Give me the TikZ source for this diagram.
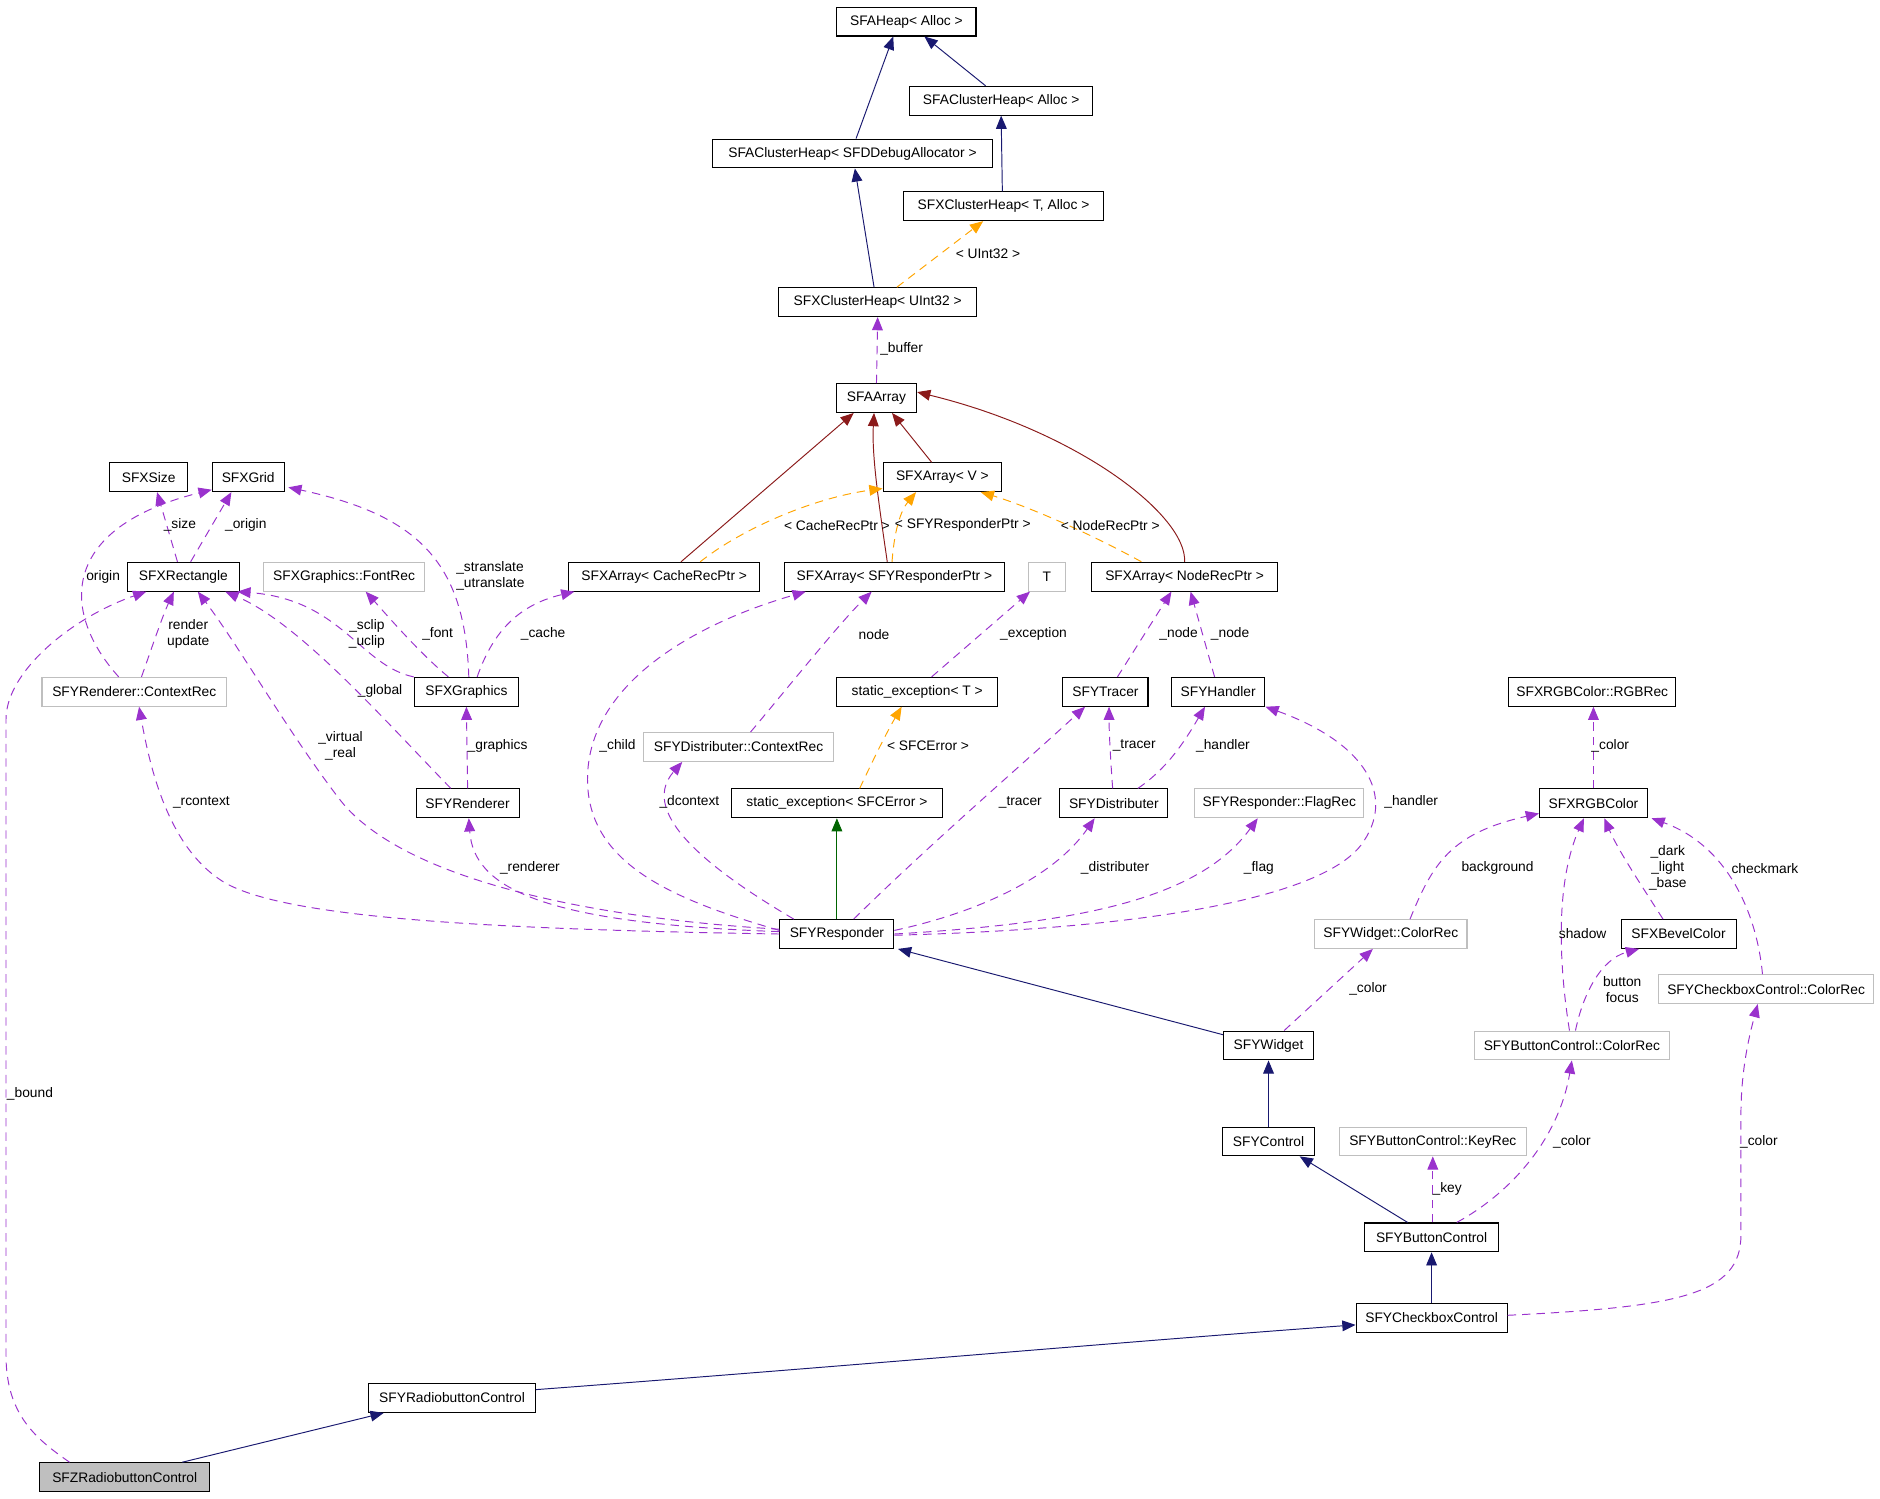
\documentclass[tikz,border=0pt]{standalone}
\usepackage{fontspec}
\setmainfont{Liberation Sans}
\usetikzlibrary{arrows.meta}
\definecolor{inhblue}{HTML}{191970}
\definecolor{protgreen}{HTML}{006400}
\definecolor{arrred}{HTML}{8B1A1A}
\definecolor{tmplorange}{HTML}{FFA500}
\definecolor{usepurple}{HTML}{9A32CD}
\definecolor{recgray}{HTML}{BFBFBF}
\tikzstyle{cls}=[draw=black, line width=0.9pt, minimum height=24pt, inner xsep=6pt, font=\fontsize{11.5}{13}\selectfont]
\tikzstyle{rec}=[cls, draw=recgray]
\tikzstyle{lbl}=[font=\fontsize{11.5}{13.5}\selectfont, inner sep=0pt, align=center]
\tikzstyle{every path}=[line width=0.8pt]
\tikzstyle{tip}=[-{Triangle[length=11pt,width=9pt]}]
\tikzstyle{inh}=[tip, draw=inhblue]
\tikzstyle{prot}=[tip, draw=protgreen]
\tikzstyle{base}=[tip, draw=arrred]
\tikzstyle{tmpl}=[tip, draw=tmplorange, dash pattern=on 7pt off 5pt]
\tikzstyle{use}=[tip, draw=usepurple, dash pattern=on 7pt off 5pt]

\begin{document}
\begin{tikzpicture}[x=1pt, y=-1pt]
  \fill[white] (0,0) rectangle (1568,1250);
  \useasboundingbox (0,0) rectangle (1568,1250);

  % Classes
  \node[cls, minimum width=116pt] (heap) at (756,18) {SFAHeap< Alloc >};
  \node[cls, minimum width=153pt] (chA) at (835,84) {SFAClusterHeap< Alloc >};
  \node[cls, minimum width=234pt] (chD) at (711,128) {SFAClusterHeap< SFDDebugAllocator >};
  \node[cls, minimum width=167pt] (xchT) at (837,172) {SFXClusterHeap< T, Alloc >};
  \node[cls, minimum width=165pt] (xchU) at (732,252) {SFXClusterHeap< UInt32 >};
  \node[cls, minimum width=67pt] (aarr) at (731,332) {SFAArray};
  \node[cls, minimum width=99pt] (xarrV) at (786,398) {SFXArray< V >};
  \node[cls, minimum width=65pt] (size) at (124,398) {SFXSize};
  \node[cls, minimum width=60pt] (grid) at (207,398) {SFXGrid};
  \node[cls, minimum width=93pt] (rect) at (153,481) {SFXRectangle};
  \node[rec, minimum width=134pt] (fontrec) at (287,481) {SFXGraphics::FontRec};
  \node[cls, minimum width=159pt] (arrCache) at (554,481) {SFXArray< CacheRecPtr >};
  \node[cls, minimum width=183pt] (arrResp) at (746,481) {SFXArray< SFYResponderPtr >};
  \node[rec, minimum width=31pt] (tT) at (873,481) {T};
  \node[cls, minimum width=155pt] (arrNode) at (988,481) {SFXArray< NodeRecPtr >};
  \node[rec, minimum width=154pt] (rctx) at (112,577) {SFYRenderer::ContextRec};
  \node[cls, minimum width=87pt] (gfx) at (389,577) {SFXGraphics};
  \node[cls, minimum width=134pt] (sexT) at (765,577) {static\_exception< T >};
  \node[cls, minimum width=71pt] (tracer) at (922,577) {SFYTracer};
  \node[cls, minimum width=78pt] (handler) at (1016,577) {SFYHandler};
  \node[cls, minimum width=139pt] (rgbrec) at (1328,577) {SFXRGBColor::RGBRec};
  \node[rec, minimum width=158pt] (dctx) at (616,623) {SFYDistributer::ContextRec};
  \node[cls, minimum width=86pt] (renderer) at (390,670) {SFYRenderer};
  \node[cls, minimum width=176pt] (sexE) at (698,670) {static\_exception< SFCError >};
  \node[cls, minimum width=90pt] (distr) at (929,670) {SFYDistributer};
  \node[rec, minimum width=141pt] (flagrec) at (1067,670) {SFYResponder::FlagRec};
  \node[cls, minimum width=90pt] (rgb) at (1329,670) {SFXRGBColor};
  \node[cls, minimum width=95pt] (resp) at (698,779) {SFYResponder};
  \node[rec, minimum width=127pt] (wcol) at (1160,779) {SFYWidget::ColorRec};
  \node[cls, minimum width=96pt] (bevel) at (1400,779) {SFXBevelColor};
  \node[rec, minimum width=179pt] (cbcol) at (1473,825) {SFYCheckboxControl::ColorRec};
  \node[cls, minimum width=75pt] (widget) at (1058,872) {SFYWidget};
  \node[rec, minimum width=163pt] (bccol) at (1311,872) {SFYButtonControl::ColorRec};
  \node[cls, minimum width=77pt] (control) at (1058,952) {SFYControl};
  \node[rec, minimum width=156pt] (keyrec) at (1195,952) {SFYButtonControl::KeyRec};
  \node[cls, minimum width=112pt] (button) at (1194,1032) {SFYButtonControl};
  \node[cls, minimum width=126pt] (checkbox) at (1194,1099) {SFYCheckboxControl};
  \node[cls, minimum width=139pt] (radio) at (377,1166) {SFYRadiobuttonControl};
  \node[cls, minimum width=142pt, fill=recgray] (sfz) at (104,1232) {SFZRadiobuttonControl};

  % Inheritance
  \draw[inh] ([xshift=3pt]chD.north) -- ([xshift=-11pt]heap.south);
  \draw[inh] ([xshift=-13pt]chA.north) -- ([xshift=15pt]heap.south);
  \draw[inh] ([xshift=-1pt]xchT.north) -- (chA.south);
  \draw[inh] ([xshift=-3pt]xchU.north) -- ([xshift=2pt]chD.south);
  \draw[inh] ([yshift=9pt]widget.west) -- ([xshift=3pt]resp.south east);
  \draw[inh] (control.north) -- (widget.south);
  \draw[inh] ([xshift=-20pt]button.north) -- ([xshift=26pt]control.south);
  \draw[inh] (checkbox.north) -- (button.south);
  \draw[inh] ([yshift=7pt]radio.east) .. controls (700,1140) and (950,1118) .. ([yshift=-6pt]checkbox.west);
  \draw[inh] ([xshift=48pt]sfz.north) -- ([xshift=-57pt]radio.south);
  \draw[prot] (resp.north) -- (sexE.south);

  % SFAArray bases
  \draw[base] ([xshift=14pt]arrCache.north) -- ([xshift=-19pt]aarr.south);
  \draw[base] ([xshift=-6pt]arrResp.north) .. controls (733,420) and (727,380) .. ([xshift=-2pt]aarr.south);
  \draw[base] ([xshift=-9pt]xarrV.north) -- ([xshift=13pt]aarr.south);
  \draw[base] (arrNode.north) .. controls (990,430) and (900,360) .. ([yshift=5pt]aarr.east);

  % Template instances
  \draw[tmpl] ([xshift=16pt]xchU.north) -- ([xshift=-17pt]xchT.south);
  \draw[tmpl] ([xshift=30pt]arrCache.north) .. controls (620,440) and (680,415) .. ([yshift=3pt]xarrV.south west);
  \draw[tmpl] ([xshift=-2pt]arrResp.north) .. controls (746,440) and (752,425) .. ([xshift=-22pt]xarrV.south);
  \draw[tmpl] ([xshift=-36pt]arrNode.north) .. controls (900,440) and (850,420) .. ([xshift=32pt]xarrV.south);
  \draw[tmpl] ([xshift=19pt]sexE.north) .. controls (730,630) and (740,610) .. ([xshift=-13pt]sexT.south);

  % Members
  \draw[use] (aarr.north) -- (xchU.south);
  \draw[use] ([xshift=-5pt]rect.north) -- ([xshift=7pt]size.south);
  \draw[use] ([xshift=6pt]rect.north) -- ([xshift=-14pt]grid.south);
  \draw[use] ([xshift=-13pt]rctx.north) .. controls (50,510) and (50,440) .. ([yshift=2pt]grid.south west);
  \draw[use] ([xshift=6pt]rctx.north) .. controls (125,545) and (135,515) .. ([xshift=-8pt]rect.south);
  \draw[use] (gfx.north west) .. controls (300,555) and (285,500) .. ([xshift=-2pt]rect.south east);
  \draw[use] ([xshift=-15pt]gfx.north) .. controls (350,545) and (320,510) .. ([xshift=18pt]fontrec.south);
  \draw[use] ([xshift=2pt]gfx.north) .. controls (388,470) and (350,430) .. ([xshift=3pt, yshift=4pt]grid.south east);
  \draw[use] ([xshift=9pt]gfx.north) .. controls (410,530) and (430,505) .. ([xshift=5pt]arrCache.south west);
  \draw[use] ([xshift=-14pt]renderer.north) .. controls (320,600) and (250,520) .. ([xshift=-12pt]rect.south east);
  \draw[use] (renderer.north) -- (gfx.south);
  \draw[use] ([yshift=4pt]resp.west) .. controls (480,765) and (330,730) .. (282,665) .. controls (240,610) and (200,540) .. ([xshift=12pt]rect.south);
  \draw[use] (resp.west) .. controls (400,775) and (230,765) .. (184,734) .. controls (140,705) and (125,640) .. ([xshift=4pt]rctx.south);
  \draw[use] ([yshift=2pt]resp.west) .. controls (450,770) and (395,740) .. ([xshift=1pt]renderer.south);
  \draw[use] ([yshift=3pt]resp.west) .. controls (560,750) and (490,720) .. (490,650) .. controls (490,570) and (580,520) .. ([xshift=-74pt]arrResp.south);
  \draw[use] ([xshift=-36pt]resp.north) .. controls (600,730) and (530,680) .. ([xshift=-47pt]dctx.south);
  \draw[use] ([xshift=10pt]dctx.north) .. controls (660,570) and (700,520) .. ([xshift=-19pt]arrResp.south);
  \draw[use] ([xshift=12pt]sexT.north) -- ([xshift=-14pt]tT.south);
  \draw[use] ([xshift=14pt]resp.north) .. controls (780,700) and (850,640) .. ([xshift=-17pt]tracer.south);
  \draw[use] ([yshift=3pt]resp.east) .. controls (820,760) and (880,730) .. ([xshift=-16pt]distr.south);
  \draw[use] (resp.east) .. controls (900,770) and (1000,750) .. ([xshift=-18pt]flagrec.south);
  \draw[use] ([yshift=-1pt]resp.east) .. controls (950,775) and (1100,750) .. (1135,705) .. controls (1165,665) and (1140,620) .. (handler.south east);
  \draw[use] ([xshift=10pt]tracer.north) -- ([xshift=-11pt]arrNode.south);
  \draw[use] ([xshift=-3pt]handler.north) -- ([xshift=5pt]arrNode.south);
  \draw[use] ([xshift=-1pt]distr.north) .. controls (926,630) and (925,610) .. ([xshift=3pt]tracer.south);
  \draw[use] ([xshift=20pt]distr.north) .. controls (975,640) and (990,615) .. ([xshift=-11pt]handler.south);
  \draw[use] (rgb.north) -- ([xshift=1pt]rgbrec.south);
  \draw[use] ([xshift=16pt]wcol.north) .. controls (1195,720) and (1210,695) .. ([yshift=4pt]rgb.south west);
  \draw[use] ([xshift=-2pt]bccol.north) .. controls (1298,790) and (1300,730) .. ([xshift=-8pt]rgb.south);
  \draw[use] ([xshift=-13pt]bevel.north) .. controls (1370,740) and (1350,710) .. ([xshift=9pt]rgb.south);
  \draw[use] ([xshift=-3pt]cbcol.north) .. controls (1465,760) and (1440,705) .. ([xshift=3pt]rgb.south east);
  \draw[use] ([xshift=3pt]bccol.north) .. controls (1320,830) and (1335,800) .. ([xshift=-33pt]bevel.south);
  \draw[use] ([xshift=13pt]widget.north) -- ([xshift=-15pt]wcol.south);
  \draw[use] ([xshift=1pt]button.north) -- (keyrec.south);
  \draw[use] ([xshift=21pt]button.north) .. controls (1260,995) and (1300,950) .. (bccol.south);
  \draw[use] ([yshift=2pt]checkbox.east) .. controls (1400,1090) and (1452,1080) .. (1452,1030) -- (1452,930) .. controls (1452,890) and (1460,860) .. ([xshift=-7pt]cbcol.south);
  \draw[use] ([xshift=-46pt]sfz.north) .. controls (30,1200) and (5,1180) .. (5,1130) -- (5,600) .. controls (5,560) and (60,515) .. ([xshift=-31pt]rect.south);

  % Labels
  \node[lbl] (lUInt) at (824,212) {< UInt32 >};
  \node[lbl] (lbuffer) at (752,291) {\_buffer};
  \node[lbl] (lCache) at (698,438) {< CacheRecPtr >};
  \node[lbl] (lResp) at (803,438) {< SFYResponderPtr >};
  \node[lbl] (lNode) at (926,438) {< NodeRecPtr >};
  \node[lbl] (lsize) at (150,438) {\_size};
  \node[lbl] (lorigin) at (205,438) {\_origin};
  \node[lbl] (lorig) at (86,481) {origin};
  \node[lbl, align=left] (ltrans) at (409,480) {\_stranslate\\\_utranslate};
  \node[lbl] (lrender) at (157,529) {render\\update};
  \node[lbl] (lclip) at (306,529) {\_sclip\\\_uclip};
  \node[lbl] (lfont) at (365,529) {\_font};
  \node[lbl] (lcache) at (453,529) {\_cache};
  \node[lbl] (lnodeA) at (729,529) {node};
  \node[lbl] (lexc) at (862,529) {\_exception};
  \node[lbl] (lnodeB) at (983,529) {\_node};
  \node[lbl] (lnodeC) at (1026,529) {\_node};
  \node[lbl] (lglobal) at (317,576) {\_global};
  \node[lbl] (lvirt) at (284,622) {\_virtual\\\_real};
  \node[lbl] (lgfx) at (415,622) {\_graphics};
  \node[lbl] (lchild) at (515,622) {\_child};
  \node[lbl] (lErr) at (774,622) {< SFCError >};
  \node[lbl] (ltracerA) at (946,622) {\_tracer};
  \node[lbl] (lhandlerA) at (1020,622) {\_handler};
  \node[lbl] (lcolA) at (1343,622) {\_color};
  \node[lbl] (lrctx) at (168,669) {\_rcontext};
  \node[lbl] (ldctx) at (575,669) {\_dcontext};
  \node[lbl] (ltracerB) at (851,669) {\_tracer};
  \node[lbl] (lhandlerB) at (1177,669) {\_handler};
  \node[lbl] (lrenderer) at (442,724) {\_renderer};
  \node[lbl] (ldistr) at (930,724) {\_distributer};
  \node[lbl] (lflag) at (1050,724) {\_flag};
  \node[lbl] (lbg) at (1249,724) {background};
  \node[lbl] (lbevel) at (1391,724) {\_dark\\\_light\\\_base};
  \node[lbl] (lcheck) at (1472,724) {checkmark};
  \node[lbl] (lshadow) at (1320,779) {shadow};
  \node[lbl] (lcolB) at (1141,825) {\_color};
  \node[lbl] (lbutton) at (1353,825) {button\\focus};
  \node[lbl] (lkey) at (1207,992) {\_key};
  \node[lbl] (lcolC) at (1311,952) {\_color};
  \node[lbl] (lcolD) at (1467,952) {\_color};
  \node[lbl] (lbound) at (25,912) {\_bound};
\end{tikzpicture}
\end{document}
